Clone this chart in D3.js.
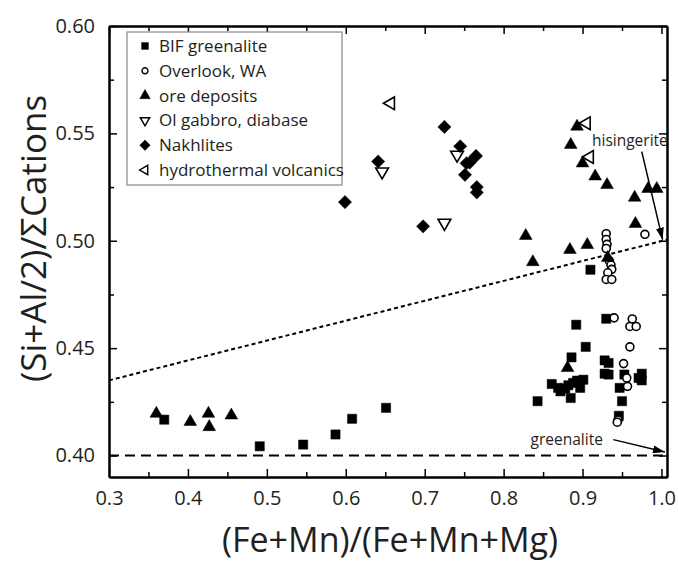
<!DOCTYPE html>
<html lang="en">
<head>
    <meta charset="UTF-8">
    <title>Si+Al/2 vs Fe+Mn</title>
    <style>
        body {
            margin: 0;
            padding: 0;
            background-color: #ffffff;
        }
        svg text {
            font-family: 'Open Sans', 'Noto Sans', sans-serif;
            fill: #231f20;
        }
        .axis path, .axis line {
            stroke: #000;
        }
        .axis path {
            stroke-width: 2px;
        }
        .axis line {
            stroke-width: 1.5px;
        }
    </style>
</head>
<body>
    <div class="chart"></div>

    <script src="https://d3js.org/d3.v7.min.js"></script>
    <script>
        const width = 678;
        const height = 565;

        // series: [x, y] = [(Fe+Mn)/(Fe+Mn+Mg), (Si+Al/2)/ΣCations]
        const bifGreenalite = [
            [0.370, 0.4167], [0.491, 0.4043], [0.546, 0.4051], [0.587, 0.4098],
            [0.608, 0.4171], [0.651, 0.4222], [0.843, 0.4253], [0.861, 0.4333],
            [0.869, 0.4315], [0.872, 0.4299], [0.878, 0.4312], [0.882, 0.4327],
            [0.888, 0.4338], [0.893, 0.4349], [0.901, 0.4353], [0.897, 0.4315],
            [0.885, 0.4268], [0.886, 0.4457], [0.892, 0.4609], [0.904, 0.4506],
            [0.910, 0.4865], [0.930, 0.4637], [0.928, 0.4443], [0.933, 0.4431],
            [0.928, 0.4381], [0.933, 0.4377], [0.953, 0.4377], [0.975, 0.4381],
            [0.975, 0.4350], [0.971, 0.4361], [0.947, 0.4315], [0.950, 0.4253],
            [0.946, 0.4185]
        ];
        const overlookWA = [
            [0.930, 0.5033], [0.930, 0.5006], [0.931, 0.4983], [0.930, 0.4964],
            [0.934, 0.4906], [0.936, 0.4887], [0.937, 0.4867], [0.932, 0.4851],
            [0.930, 0.4820], [0.937, 0.4820], [0.979, 0.5030], [0.940, 0.4641],
            [0.963, 0.4636], [0.960, 0.4601], [0.968, 0.4601], [0.960, 0.4506],
            [0.952, 0.4428], [0.956, 0.4361], [0.957, 0.4322], [0.945, 0.4165],
            [0.944, 0.4155]
        ];
        const oreDeposits = [
            [0.360, 0.4195], [0.403, 0.4157], [0.426, 0.4195], [0.427, 0.4133],
            [0.455, 0.4187], [0.881, 0.4408], [0.837, 0.4901], [0.828, 0.5023],
            [0.884, 0.4958], [0.906, 0.4981], [0.932, 0.4921], [0.967, 0.5079],
            [0.966, 0.5201], [0.983, 0.5242], [0.994, 0.5242], [0.931, 0.5260],
            [0.916, 0.5300], [0.900, 0.5361], [0.885, 0.5447], [0.893, 0.5532]
        ];
        const olGabbro = [
            [0.646, 0.5322], [0.741, 0.5400], [0.725, 0.5083]
        ];
        const nakhlites = [
            [0.599, 0.5180], [0.641, 0.5369], [0.698, 0.5067], [0.725, 0.5530],
            [0.745, 0.5440], [0.765, 0.5395], [0.753, 0.5361], [0.757, 0.5364],
            [0.751, 0.5307], [0.766, 0.5250], [0.766, 0.5225]
        ];
        const hydrothermal = [
            [0.657, 0.5640], [0.905, 0.5547], [0.909, 0.5390]
        ];

        const seriesNames = ['BIF greenalite', 'Overlook, WA', 'ore deposits',
            'Ol gabbro, diabase', 'Nakhlites', 'hydrothermal volcanics'];
        const xTicks = [0.3, 0.4, 0.5, 0.6, 0.7, 0.8, 0.9, 1.0];
        const yTicks = [0.40, 0.45, 0.50, 0.55, 0.60];

        // reference lines
        const greenaliteLine = [[0.3, 0.40], [1.007, 0.40]];
        const hisingeriteLine = [[0.3, 0.435], [1.007, 0.5005]];

        const margin = { top: 26, right: 11, bottom: 88, left: 109 };

        const svg = d3.select('.chart')
            .append('svg')
            .attr('width', width)
            .attr('height', height);

        const x = d3.scaleLinear().domain([0.3, 1.007]).range([margin.left, width - margin.right]);
        const y = d3.scaleLinear().domain([0.39, 0.60]).range([height - margin.bottom, margin.top]);

        const x0 = margin.left, x1 = width - margin.right;
        const y0 = height - margin.bottom, y1 = margin.top;

        // minor ticks
        const xMinor = d3.range(0.35, 1.0, 0.1);
        const yMinor = d3.range(0.425, 0.6, 0.05);

        function addAxis(axis, tx, ty) {
            return svg.append('g')
                .attr('class', 'axis')
                .attr('transform', `translate(${tx},${ty})`)
                .call(axis);
        }

        addAxis(d3.axisBottom(x).tickValues(xTicks).tickFormat(d3.format('.1f'))
            .tickSizeInner(-8).tickSizeOuter(0).tickPadding(14), 0, y0);
        addAxis(d3.axisBottom(x).tickValues(xMinor).tickFormat('').tickSizeInner(-5).tickSizeOuter(0), 0, y0);
        addAxis(d3.axisTop(x).tickValues(xTicks).tickFormat('').tickSizeInner(-8).tickSizeOuter(0), 0, y1);
        addAxis(d3.axisTop(x).tickValues(xMinor).tickFormat('').tickSizeInner(-5).tickSizeOuter(0), 0, y1);

        addAxis(d3.axisLeft(y).tickValues(yTicks).tickFormat(d3.format('.2f'))
            .tickSizeInner(-8).tickSizeOuter(0).tickPadding(14), x0, 0);
        addAxis(d3.axisLeft(y).tickValues(yMinor).tickFormat('').tickSizeInner(-5).tickSizeOuter(0), x0, 0);
        addAxis(d3.axisRight(y).tickValues(yTicks).tickFormat('').tickSizeInner(-8).tickSizeOuter(0), x1, 0);
        addAxis(d3.axisRight(y).tickValues(yMinor).tickFormat('').tickSizeInner(-5).tickSizeOuter(0), x1, 0);

        svg.selectAll('.axis text')
            .style('font-size', '20px');

        // axis titles
        svg.append('text')
            .attr('x', (x0 + x1) / 2 + 2)
            .attr('y', 552)
            .attr('text-anchor', 'middle')
            .style('font-size', '34px')
            .text('(Fe+Mn)/(Fe+Mn+Mg)');

        svg.append('text')
            .attr('transform', `translate(46,${(y0 + y1) / 2 - 13}) rotate(-90)`)
            .attr('text-anchor', 'middle')
            .style('font-size', '35px')
            .text('(Si+Al/2)/ΣCations');

        // reference lines
        const line = d3.line().x(d => x(d[0])).y(d => y(d[1]));

        svg.append('path')
            .attr('d', line(greenaliteLine))
            .attr('fill', 'none')
            .attr('stroke', '#000')
            .attr('stroke-width', 2)
            .attr('stroke-dasharray', '10,6');

        svg.append('path')
            .attr('d', line(hisingeriteLine))
            .attr('fill', 'none')
            .attr('stroke', '#000')
            .attr('stroke-width', 2)
            .attr('stroke-dasharray', '4,3');

        // arrow marker
        svg.append('defs').append('marker')
            .attr('id', 'arrow')
            .attr('viewBox', '0 0 12 8')
            .attr('refX', 12)
            .attr('refY', 4)
            .attr('markerWidth', 12)
            .attr('markerHeight', 8)
            .attr('markerUnits', 'userSpaceOnUse')
            .attr('orient', 'auto')
            .append('path')
            .attr('d', 'M0,0 L12,4 L0,8 Z')
            .attr('fill', '#000');

        const annotations = [
            { label: 'hisingerite', tx: 0.960, ty: 0.5440, from: [0.975, 0.5415], to: [1.0014, 0.5005] },
            { label: 'greenalite', tx: 0.880, ty: 0.4050, from: [0.939, 0.4074], to: [1.0043, 0.4016] }
        ];

        annotations.forEach(a => {
            svg.append('text')
                .attr('x', x(a.tx))
                .attr('y', y(a.ty))
                .attr('text-anchor', 'middle')
                .style('font-size', '15.5px')
                .text(a.label);
            svg.append('line')
                .attr('x1', x(a.from[0])).attr('y1', y(a.from[1]))
                .attr('x2', x(a.to[0])).attr('y2', y(a.to[1]))
                .attr('stroke', '#000')
                .attr('stroke-width', 1.5)
                .attr('marker-end', 'url(#arrow)');
        });

        // marker shapes
        const tri = d3.symbol().type(d3.symbolTriangle).size(70)();
        const shapes = [
            { data: bifGreenalite, d: 'M-4.6,-4.6H4.6V4.6H-4.6Z', fill: '#000', rot: 0 },
            { data: overlookWA, d: d3.symbol().type(d3.symbolCircle).size(50)(), fill: '#fff', rot: 0 },
            { data: oreDeposits, d: tri, fill: '#000', rot: 0 },
            { data: olGabbro, d: tri, fill: '#fff', rot: 180 },
            { data: nakhlites, d: 'M0,-6.6L6.6,0L0,6.6L-6.6,0Z', fill: '#000', rot: 0 },
            { data: hydrothermal, d: tri, fill: '#fff', rot: -90 }
        ];

        const plot = svg.append('g');
        shapes.forEach(s => {
            plot.append('g').selectAll('path')
                .data(s.data)
                .enter().append('path')
                .attr('d', s.d)
                .attr('transform', d => `translate(${x(d[0])},${y(d[1])}) rotate(${s.rot})`)
                .attr('fill', s.fill)
                .attr('stroke', '#000')
                .attr('stroke-width', s.fill === '#fff' ? 1.6 : 0.5);
        });

        // legend
        const legend = svg.append('g').attr('transform', 'translate(127,32)');
        legend.append('rect')
            .attr('width', 215)
            .attr('height', 153)
            .attr('fill', '#fff')
            .attr('stroke', '#888')
            .attr('stroke-width', 1.2);

        const legendShape = [
            { d: 'M-3.4,-3.4H3.4V3.4H-3.4Z', fill: '#000', rot: 0 },
            { d: d3.symbol().type(d3.symbolCircle).size(28)(), fill: '#fff', rot: 0 },
            { d: d3.symbol().type(d3.symbolTriangle).size(48)(), fill: '#000', rot: 0 },
            { d: d3.symbol().type(d3.symbolTriangle).size(38)(), fill: '#fff', rot: 180 },
            { d: 'M0,-5.2L5.2,0L0,5.2L-5.2,0Z', fill: '#000', rot: 0 },
            { d: d3.symbol().type(d3.symbolTriangle).size(38)(), fill: '#fff', rot: -90 }
        ];

        const item = legend.selectAll('.item')
            .data(seriesNames)
            .enter().append('g')
            .attr('transform', (d, i) => `translate(0,${14 + i * 24.8})`);

        item.append('path')
            .attr('d', (d, i) => legendShape[i].d)
            .attr('transform', (d, i) => `translate(18,0) rotate(${legendShape[i].rot})`)
            .attr('fill', (d, i) => legendShape[i].fill)
            .attr('stroke', '#000')
            .attr('stroke-width', (d, i) => legendShape[i].fill === '#fff' ? 1.4 : 0.5);

        item.append('text')
            .attr('x', 32)
            .attr('dy', '0.35em')
            .style('font-size', '17px')
            .text(d => d);
    </script>
</body>
</html>
